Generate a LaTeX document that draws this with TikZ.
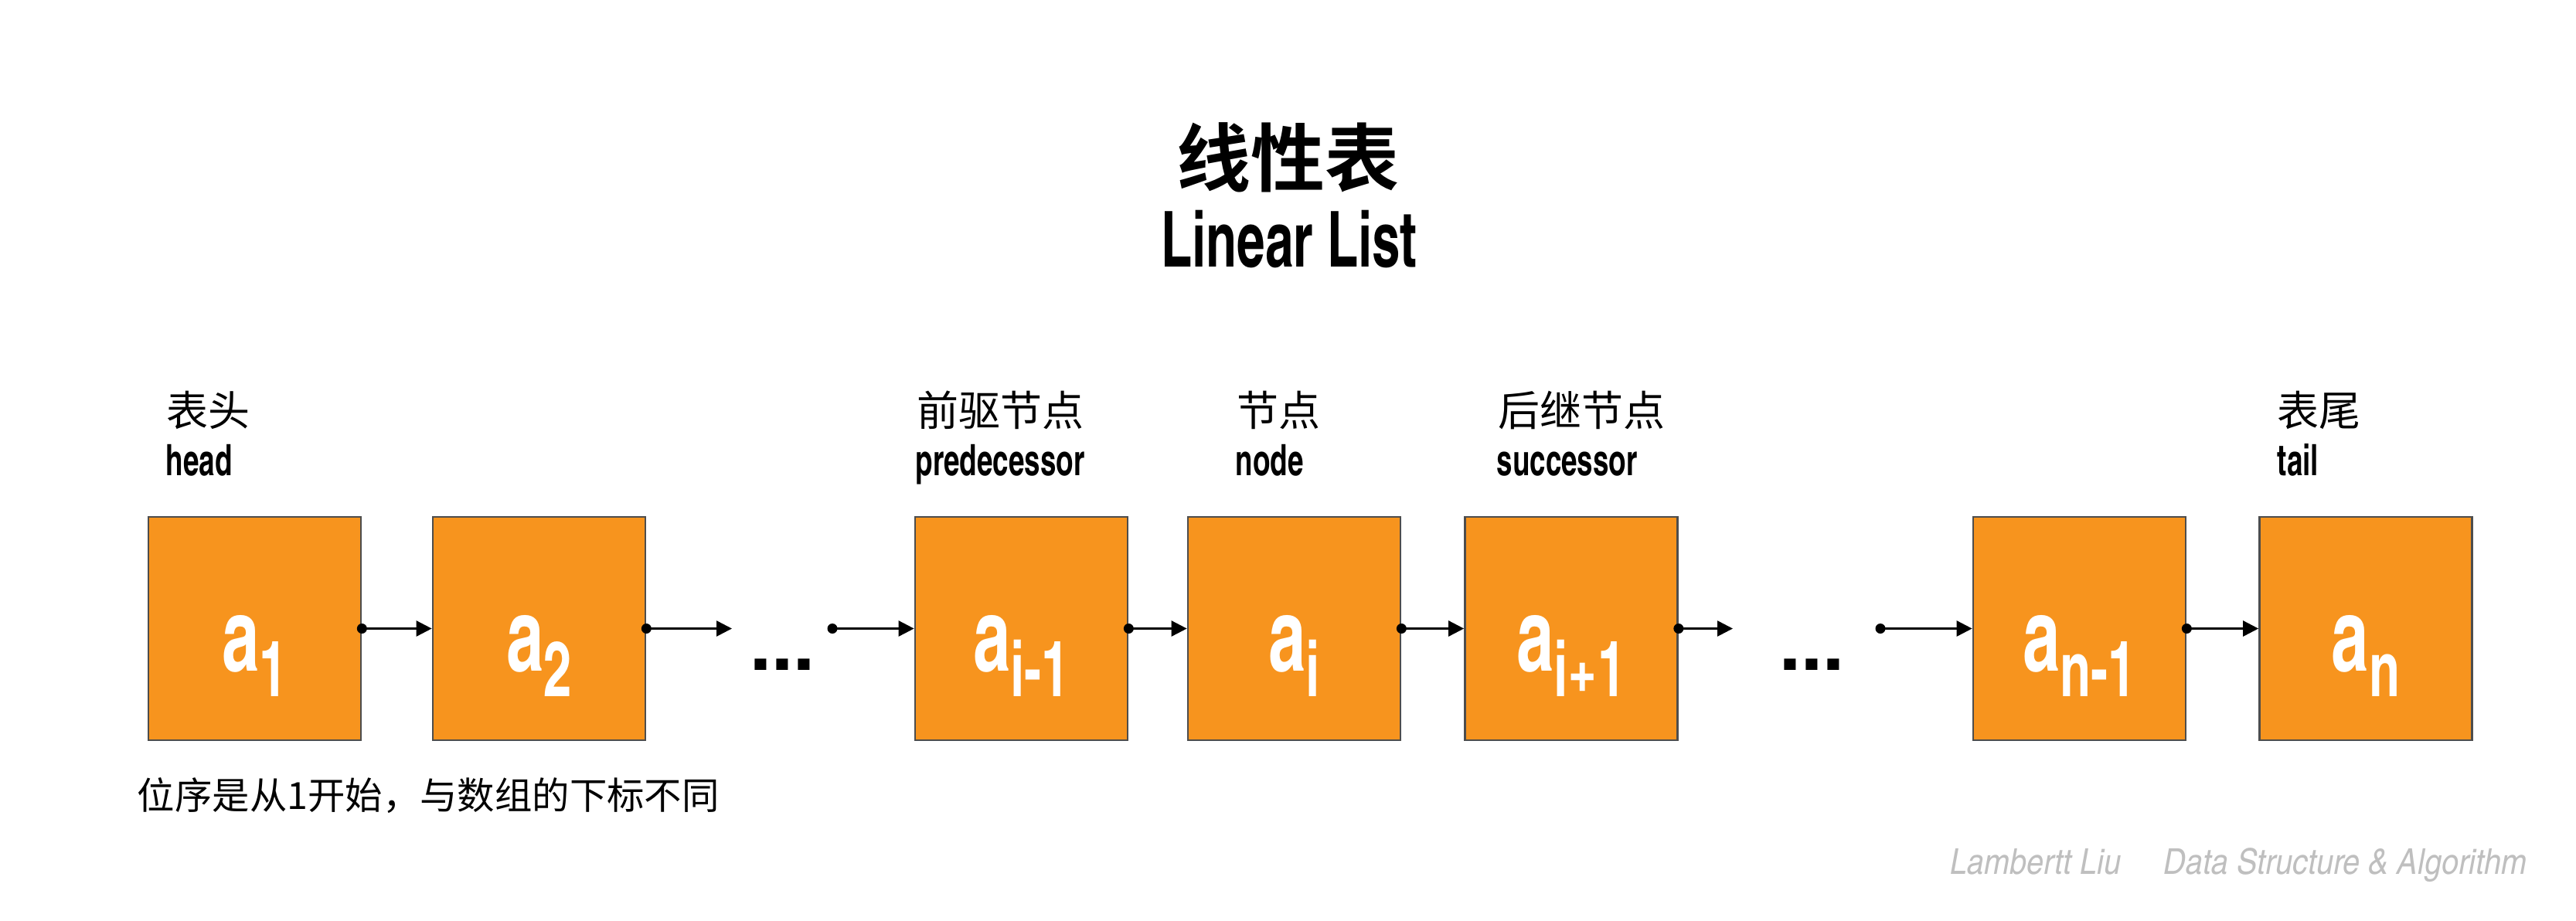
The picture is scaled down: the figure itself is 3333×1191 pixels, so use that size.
\documentclass[tikz,border=0pt]{standalone}
\usepackage{fontspec}
\usetikzlibrary{arrows.meta}
\newfontfamily\cjk[BoldFont={Noto Sans CJK SC Bold}]{Noto Sans CJK SC}
\newfontfamily\cond[FakeStretch=0.8]{texgyreheroscn-bold.otf}
\newfontfamily\heavy{texgyreheros-bold.otf}
\newfontfamily\condit[FakeStretch=1.05]{texgyreheroscn-italic.otf}
\definecolor{boxfill}{HTML}{F7941E}
\definecolor{boxline}{HTML}{4D4D4D}
\definecolor{wmgray}{HTML}{BFBFBF}
\newcommand\elemsub[1]{a\raisebox{-8.25pt}{\fontsize{25pt}{25pt}\selectfont #1}}
\begin{document}
\begin{tikzpicture}[x=0.25pt,y=-0.25pt,
  elembox/.style={draw=boxline, fill=boxfill, line width=0.67pt,
    minimum width=68.75pt, minimum height=72.25pt, inner sep=0pt,
    text=white, font=\fontsize{33pt}{33pt}\cond,
    text height=27.5pt, text depth=0pt},
  dotnode/.style={circle, fill=black, inner sep=0pt, minimum size=3.25pt},
  link/.style={line width=0.67pt, -{Triangle[length=5pt,width=5pt]}},
  cjklab/.style={font=\fontsize{13.5pt}{13.5pt}\cjk, anchor=base west, inner sep=0pt},
  enlab/.style={font=\fontsize{14pt}{14pt}\cond, anchor=base west, inner sep=0pt},
  ellip/.style={font=\fontsize{25pt}{25pt}\heavy, anchor=base west, inner sep=0pt}
]
\useasboundingbox (0,0) rectangle (3333,1191);
\fill[white] (0,0) rectangle (3333,1191);

% title
\node[font=\fontsize{24pt}{24pt}\cjk\bfseries, anchor=base, inner sep=0pt] (t1) at (1666,240) {线性表};
\node[font=\fontsize{25pt}{25pt}\cond, anchor=base, inner sep=0pt] (t2) at (1668,345) {Linear List};

% boxes
\node[elembox] (a1)  at (329.5,813.5)  {\elemsub{1}};
\node[elembox] (a2)  at (697.5,813.5)  {\elemsub{2}};
\node[elembox] (aim) at (1321.5,813.5) {\elemsub{i-1}};
\node[elembox] (ai)  at (1674.5,813.5) {\elemsub{i}};
\node[elembox] (aip) at (2033,813.5)   {\elemsub{i+1}};
\node[elembox] (anm) at (2690.5,813.5) {\elemsub{n-1}};
\node[elembox] (an)  at (3061,813.5)   {\elemsub{n}};

% ellipses
\node[ellip] (e1) at (970,867) {...};
\node[ellip] (e2) at (2302,867) {...};

% free ends
\coordinate (c1) at (947,813.5);
\coordinate (c2) at (1077,813.5);
\coordinate (c3) at (2242,813.5);
\coordinate (c4) at (2433,813.5);

% connectors
\node[dotnode] (d1) at (a1.east) {};
\draw[link] (d1.center) -- (a2.west);
\node[dotnode] (d2) at (a2.east) {};
\draw[link] (d2.center) -- (c1);
\node[dotnode] (d3) at (c2) {};
\draw[link] (d3.center) -- (aim.west);
\node[dotnode] (d4) at (aim.east) {};
\draw[link] (d4.center) -- (ai.west);
\node[dotnode] (d5) at (ai.east) {};
\draw[link] (d5.center) -- (aip.west);
\node[dotnode] (d6) at (aip.east) {};
\draw[link] (d6.center) -- (c3);
\node[dotnode] (d7) at (c4) {};
\draw[link] (d7.center) -- (anm.west);
\node[dotnode] (d8) at (anm.east) {};
\draw[link] (d8.center) -- (an.west);

% labels
\node[cjklab] (l1) at (215,551) {表头};
\node[enlab]  (m1) at (214,615) {head};
\node[cjklab] (l2) at (1186,551) {前驱节点};
\node[enlab]  (m2) at (1184,615) {predecessor};
\node[cjklab] (l3) at (1600,551) {节点};
\node[enlab]  (m3) at (1598,615) {node};
\node[cjklab] (l4) at (1938,551) {后继节点};
\node[enlab]  (m4) at (1936,615) {successor};
\node[cjklab] (l5) at (2946,551) {表尾};
\node[enlab]  (m5) at (2946,615) {tail};

% note
\node[font=\fontsize{12.1pt}{12.1pt}\cjk, anchor=base west, inner sep=0pt] (note) at (177,1047) {位序是从1开始，与数组的下标不同};

% watermark
\node[font=\fontsize{11.5pt}{11.5pt}\condit, text=wmgray, anchor=base west, inner sep=0pt] (wm) at (2523,1131) {Lambertt Liu\hspace{1.2em}Data Structure \& Algorithm};
\end{tikzpicture}
\end{document}
